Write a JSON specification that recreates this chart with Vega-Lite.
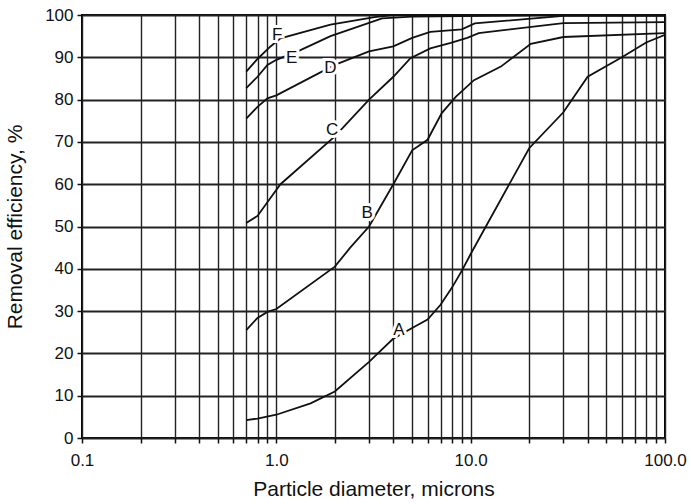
{
  "$schema": "https://vega.github.io/schema/vega-lite/v6.json",
  "width": 583,
  "height": 423,
  "autosize": {"type": "none"},
  "padding": {"left": 82, "top": 15, "right": 26, "bottom": 66},
  "background": "white",
  "config": {
    "view": {"stroke": "black", "strokeWidth": 2},
    "font": "Liberation Sans",
    "axis": {
      "labelFont": "Liberation Sans",
      "titleFont": "Liberation Sans",
      "labelColor": "#111",
      "titleColor": "#111",
      "labelFontSize": 17,
      "titleFontSize": 21,
      "titleFontWeight": "normal",
      "gridColor": "#222",
      "tickColor": "#111",
      "tickSize": 5,
      "tickWidth": 1.5,
      "domain": false,
      "labelOverlap": false,
      "labelFlush": false,
      "labelBound": false
    }
  },
  "datasets": {
    "curves": [
      {"curve": "A", "d": 0.7, "eff": 4.2},
      {"curve": "A", "d": 0.8, "eff": 4.6},
      {"curve": "A", "d": 1.0, "eff": 5.5},
      {"curve": "A", "d": 1.5, "eff": 8.2},
      {"curve": "A", "d": 2.0, "eff": 11},
      {"curve": "A", "d": 3.0, "eff": 18},
      {"curve": "A", "d": 4.0, "eff": 23.5},
      {"curve": "A", "d": 5.0, "eff": 26},
      {"curve": "A", "d": 6.0, "eff": 28},
      {"curve": "A", "d": 7.0, "eff": 31.5},
      {"curve": "A", "d": 8.0, "eff": 35.5},
      {"curve": "A", "d": 9.0, "eff": 39.5},
      {"curve": "A", "d": 10, "eff": 43.5},
      {"curve": "A", "d": 20, "eff": 68.5},
      {"curve": "A", "d": 30, "eff": 77},
      {"curve": "A", "d": 40, "eff": 85.4},
      {"curve": "A", "d": 60, "eff": 90},
      {"curve": "A", "d": 80, "eff": 93.5},
      {"curve": "A", "d": 100, "eff": 95.3},
      {"curve": "B", "d": 0.7, "eff": 25.5},
      {"curve": "B", "d": 0.8, "eff": 28.4},
      {"curve": "B", "d": 0.9, "eff": 29.8},
      {"curve": "B", "d": 1.0, "eff": 30.5},
      {"curve": "B", "d": 2.0, "eff": 40.5},
      {"curve": "B", "d": 2.4, "eff": 45},
      {"curve": "B", "d": 3.0, "eff": 50},
      {"curve": "B", "d": 4.0, "eff": 60},
      {"curve": "B", "d": 5.0, "eff": 68},
      {"curve": "B", "d": 6.0, "eff": 70.5},
      {"curve": "B", "d": 7.1, "eff": 76.8},
      {"curve": "B", "d": 8.4, "eff": 80.7},
      {"curve": "B", "d": 10.4, "eff": 84.6},
      {"curve": "B", "d": 14.3, "eff": 87.8},
      {"curve": "B", "d": 20.4, "eff": 93.2},
      {"curve": "B", "d": 30, "eff": 94.8},
      {"curve": "B", "d": 100, "eff": 95.7},
      {"curve": "C", "d": 0.7, "eff": 50.8},
      {"curve": "C", "d": 0.8, "eff": 52.5},
      {"curve": "C", "d": 1.05, "eff": 60},
      {"curve": "C", "d": 2.0, "eff": 71.3},
      {"curve": "C", "d": 3.0, "eff": 80},
      {"curve": "C", "d": 4.0, "eff": 85.4},
      {"curve": "C", "d": 4.9, "eff": 89.8},
      {"curve": "C", "d": 6.2, "eff": 92.1},
      {"curve": "C", "d": 7.9, "eff": 93.4},
      {"curve": "C", "d": 9.6, "eff": 94.6},
      {"curve": "C", "d": 11, "eff": 95.7},
      {"curve": "C", "d": 30, "eff": 98.1},
      {"curve": "C", "d": 100, "eff": 98.3},
      {"curve": "D", "d": 0.7, "eff": 75.5},
      {"curve": "D", "d": 0.8, "eff": 78.3},
      {"curve": "D", "d": 0.9, "eff": 80.3},
      {"curve": "D", "d": 1.0, "eff": 81},
      {"curve": "D", "d": 2.0, "eff": 88.2},
      {"curve": "D", "d": 3.0, "eff": 91.4},
      {"curve": "D", "d": 4.0, "eff": 92.6},
      {"curve": "D", "d": 5.0, "eff": 94.6},
      {"curve": "D", "d": 6.2, "eff": 96},
      {"curve": "D", "d": 9.0, "eff": 96.6},
      {"curve": "D", "d": 10.5, "eff": 98},
      {"curve": "D", "d": 30, "eff": 99.8},
      {"curve": "D", "d": 100, "eff": 99.8},
      {"curve": "E", "d": 0.7, "eff": 82.7},
      {"curve": "E", "d": 0.8, "eff": 85.4},
      {"curve": "E", "d": 0.9, "eff": 88.2},
      {"curve": "E", "d": 1.0, "eff": 89.4},
      {"curve": "E", "d": 1.33, "eff": 91.7},
      {"curve": "E", "d": 1.9, "eff": 95},
      {"curve": "E", "d": 3.5, "eff": 99.2},
      {"curve": "E", "d": 5.0, "eff": 99.6},
      {"curve": "E", "d": 30, "eff": 100},
      {"curve": "E", "d": 100, "eff": 100},
      {"curve": "F", "d": 0.7, "eff": 86.6},
      {"curve": "F", "d": 0.8, "eff": 89.6},
      {"curve": "F", "d": 0.93, "eff": 92.5},
      {"curve": "F", "d": 1.05, "eff": 94.5},
      {"curve": "F", "d": 1.9, "eff": 97.7},
      {"curve": "F", "d": 3.2, "eff": 99.5},
      {"curve": "F", "d": 4.0, "eff": 100},
      {"curve": "F", "d": 100, "eff": 100}
    ],
    "labels": [
      {"label": "A", "d": 4.27, "eff": 25.6},
      {"label": "B", "d": 2.93, "eff": 53.2},
      {"label": "C", "d": 1.94, "eff": 72.8},
      {"label": "D", "d": 1.9, "eff": 87.4},
      {"label": "E", "d": 1.2, "eff": 89.8},
      {"label": "F", "d": 1.01, "eff": 95.2}
    ]
  },
  "layer": [
    {
      "data": {"name": "curves"},
      "mark": {"type": "line", "color": "#111", "strokeWidth": 1.8, "clip": true},
      "encoding": {
        "x": {
          "field": "d",
          "type": "quantitative",
          "scale": {"type": "log", "domain": [0.1, 100], "nice": false},
          "axis": {
            "values": [0.1, 0.2, 0.3, 0.4, 0.5, 0.6, 0.7, 0.8, 0.9, 1, 2, 3, 4, 5, 6, 7, 8, 9, 10, 20, 30, 40, 50, 60, 70, 80, 90, 100],
            "labelExpr": "datum.value == 0.1 ? '0.1' : datum.value == 1 ? '1.0' : datum.value == 10 ? '10.0' : datum.value == 100 ? '100.0' : ''",
            "grid": true,
            "gridWidth": 1.4,
            "labelPadding": 9,
            "title": "Particle diameter, microns",
            "titlePadding": 10
          }
        },
        "y": {
          "field": "eff",
          "type": "quantitative",
          "scale": {"domain": [0, 100], "nice": false},
          "axis": {
            "values": [0, 10, 20, 30, 40, 50, 60, 70, 80, 90, 100],
            "grid": true,
            "gridWidth": 1.8,
            "labelPadding": 4,
            "title": "Removal efficiency, %",
            "titlePadding": 19
          }
        },
        "detail": {"field": "curve"}
      }
    },
    {
      "data": {"name": "labels"},
      "mark": {"type": "text", "font": "Liberation Sans", "fontSize": 17, "stroke": "white", "strokeWidth": 6, "fill": "white"},
      "encoding": {
        "x": {"field": "d", "type": "quantitative"},
        "y": {"field": "eff", "type": "quantitative"},
        "text": {"field": "label"}
      }
    },
    {
      "data": {"name": "labels"},
      "mark": {"type": "text", "font": "Liberation Sans", "fontSize": 17, "color": "#111"},
      "encoding": {
        "x": {"field": "d", "type": "quantitative"},
        "y": {"field": "eff", "type": "quantitative"},
        "text": {"field": "label"}
      }
    }
  ]
}
